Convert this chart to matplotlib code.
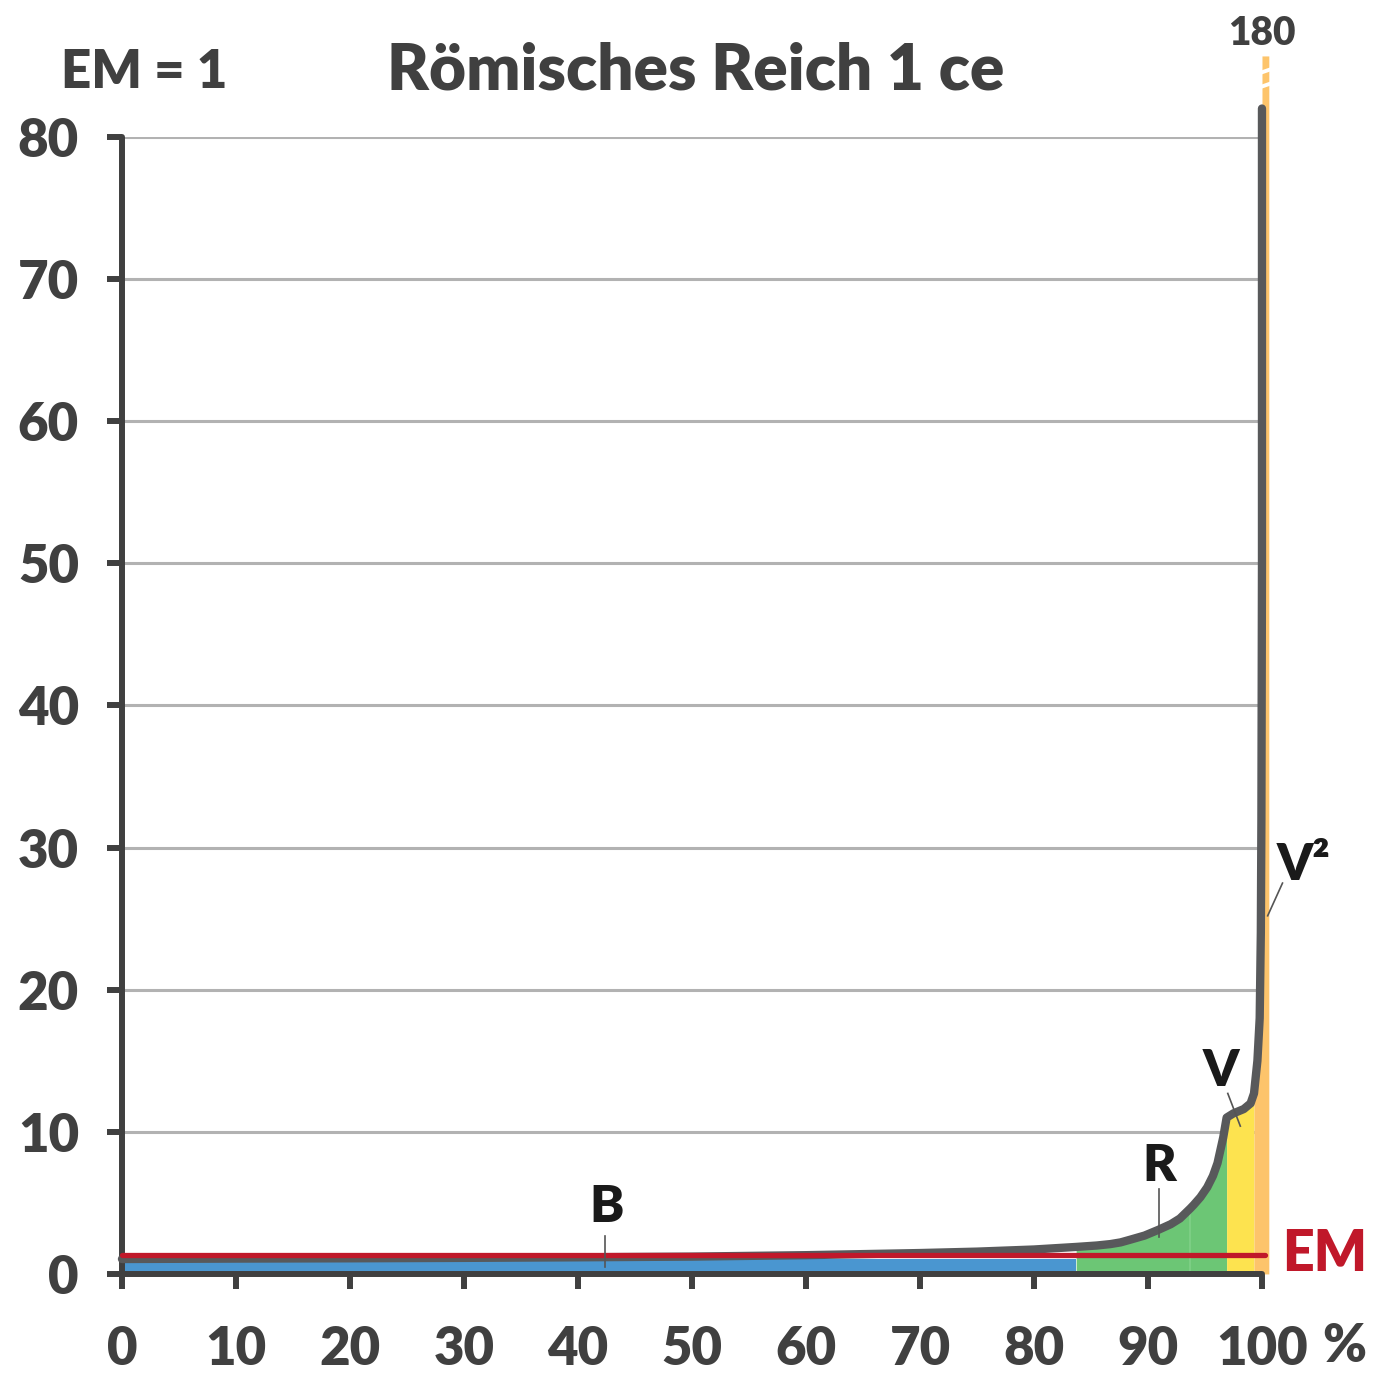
import matplotlib
matplotlib.use("Agg")
import matplotlib.pyplot as plt
import numpy as np

plt.rcParams['font.family'] = ['Lato', 'DejaVu Sans']
plt.rcParams['font.weight'] = 'bold'

# income curve: percent of population -> multiple of EM
curve_x = [0, 10, 20, 30, 40, 50, 60, 70, 75, 80, 83.7, 85.5, 86.7, 87.6, 88.4,
           89.7, 90.9, 92.0, 92.8, 93.7, 94.0, 94.6, 95.2, 95.7, 96.1, 96.6,
           96.9, 97.5, 98.4, 99.0, 99.3, 99.6, 99.8, 99.9, 99.95, 100.0, 100.0]
curve_y = [1.05, 1.08, 1.1, 1.13, 1.17, 1.22, 1.32, 1.47, 1.57, 1.72, 1.9, 2.0,
           2.1, 2.22, 2.4, 2.7, 3.1, 3.5, 3.9, 4.6, 4.85, 5.4, 6.1, 6.9, 7.8,
           9.6, 11.0, 11.3, 11.6, 12.0, 12.7, 15.0, 18.0, 24.0, 32.0, 50.0, 82.0]

em_level = 1.3
band_edges = [0, 83.7, 96.9, 99.3, 100.6]   # B | R | V | V²
band_colors = ['#4a96d0', '#6cc675', '#fde34f', '#fdc46b']
blue_height = 1.05
orange_top = 85.7

dark = '#404040'

fig = plt.figure(figsize=(13.75, 13.75), dpi=100)
ax = fig.add_axes([0.0887, 0.0735, 0.8291, 0.8269])
ax.set_xlim(0, 100)
ax.set_ylim(0, 80)

cx = np.array(curve_x)
cy = np.array(curve_y)

# grid
for g in range(10, 81, 10):
    ax.plot([0, 100], [g, g], color='#b2b2b2', lw=2.2, zorder=1)

# B band
ax.fill_between([band_edges[0], band_edges[1]], 0, blue_height,
                color=band_colors[0], lw=0, zorder=2)
# R band
m = (cx >= band_edges[1]) & (cx <= band_edges[2])
ax.fill_between(cx[m], 0, cy[m], color=band_colors[1], lw=0, zorder=2)
ax.plot([93.7, 93.7], [0, 4.6], color='#80d088', lw=1.2, zorder=2)
# V band
m = (cx >= band_edges[2]) & (cx <= band_edges[3])
ax.fill_between(cx[m], 0, cy[m], color=band_colors[2], lw=0, zorder=2)
# V² band (runs off the top of the chart)
m = cx >= band_edges[3]
oy = np.concatenate([[0], cy[m], [orange_top]])
ox = np.concatenate([[band_edges[3]], cx[m], [100.0]])
ax.fill_betweenx(oy, ox, band_edges[4], color=band_colors[3], lw=0,
                 zorder=2, clip_on=False)
# break marks
for yb in (84.3, 83.3):
    ax.plot([99.1, 100.9], [yb, yb + 0.5], color='white', lw=2.8,
            zorder=3, clip_on=False)

# curve
ax.plot(cx, cy, color='#58595b', lw=6, solid_capstyle='round',
        solid_joinstyle='round', zorder=4, clip_on=False)

# EM line
ax.plot([0, 100.3], [em_level, em_level], color='#c0182a', lw=3.8,
        solid_capstyle='round', zorder=5, clip_on=False)

# spines and ticks
for s in ('top', 'right'):
    ax.spines[s].set_visible(False)
for s in ('left', 'bottom'):
    ax.spines[s].set_linewidth(4.3)
    ax.spines[s].set_color(dark)
    ax.spines[s].set_capstyle('round')
ax.set_xticks(range(0, 101, 10))
ax.set_yticks(range(0, 81, 10))
ax.tick_params(axis='both', colors=dark, width=4.3, length=11,
               labelsize=38, direction='out')
ax.tick_params(axis='y', pad=20)
ax.tick_params(axis='x', pad=26)
for lab in ax.get_xticklabels() + ax.get_yticklabels():
    lab.set_fontweight('heavy')
    lab.set_color(dark)

# texts
fig.text(0.506, 0.948, 'Römisches Reich 1 ce', ha='center', va='center',
         fontsize=46, color=dark, fontweight='heavy')
fig.text(0.105, 0.947, 'EM = 1', ha='center', va='center',
         fontsize=38, color=dark, fontweight='heavy')
ax.text(100.0, 87.3, '180', ha='center', va='center', fontsize=28,
        color=dark, fontweight='heavy', clip_on=False)
fig.text(0.978, 0.021, '%', ha='center', va='center', fontsize=38,
         color=dark, fontweight='heavy')
ax.text(101.8, 1.4, 'EM', ha='left', va='center', fontsize=40,
        color='#c0182a', fontweight='heavy', clip_on=False)

# annotations
lbl = '#1a1a1a'
ax.text(42.5, 4.7, 'B', ha='center', va='center', fontsize=37, color=lbl,
        fontweight='heavy')
ax.plot([42.4, 42.4], [2.7, 0.5], color='#555555', lw=1.2, zorder=6)
ax.text(91.0, 7.6, 'R', ha='center', va='center', fontsize=37, color=lbl,
        fontweight='heavy')
ax.plot([91.0, 91.0], [6.0, 2.6], color='#555555', lw=1.2, zorder=6)
ax.text(96.4, 14.3, 'V', ha='center', va='center', fontsize=37, color=lbl,
        fontweight='heavy')
ax.plot([97.0, 98.1], [12.7, 10.4], color='#555555', lw=1.2, zorder=6)
ax.text(103.6, 28.8, 'V²', ha='center', va='center', fontsize=37, color=lbl,
        fontweight='heavy', clip_on=False)
ax.plot([101.8, 100.5], [27.5, 25.2], color='#555555', lw=1.2, zorder=6,
        clip_on=False)

fig.savefig('out.png', dpi=100)
